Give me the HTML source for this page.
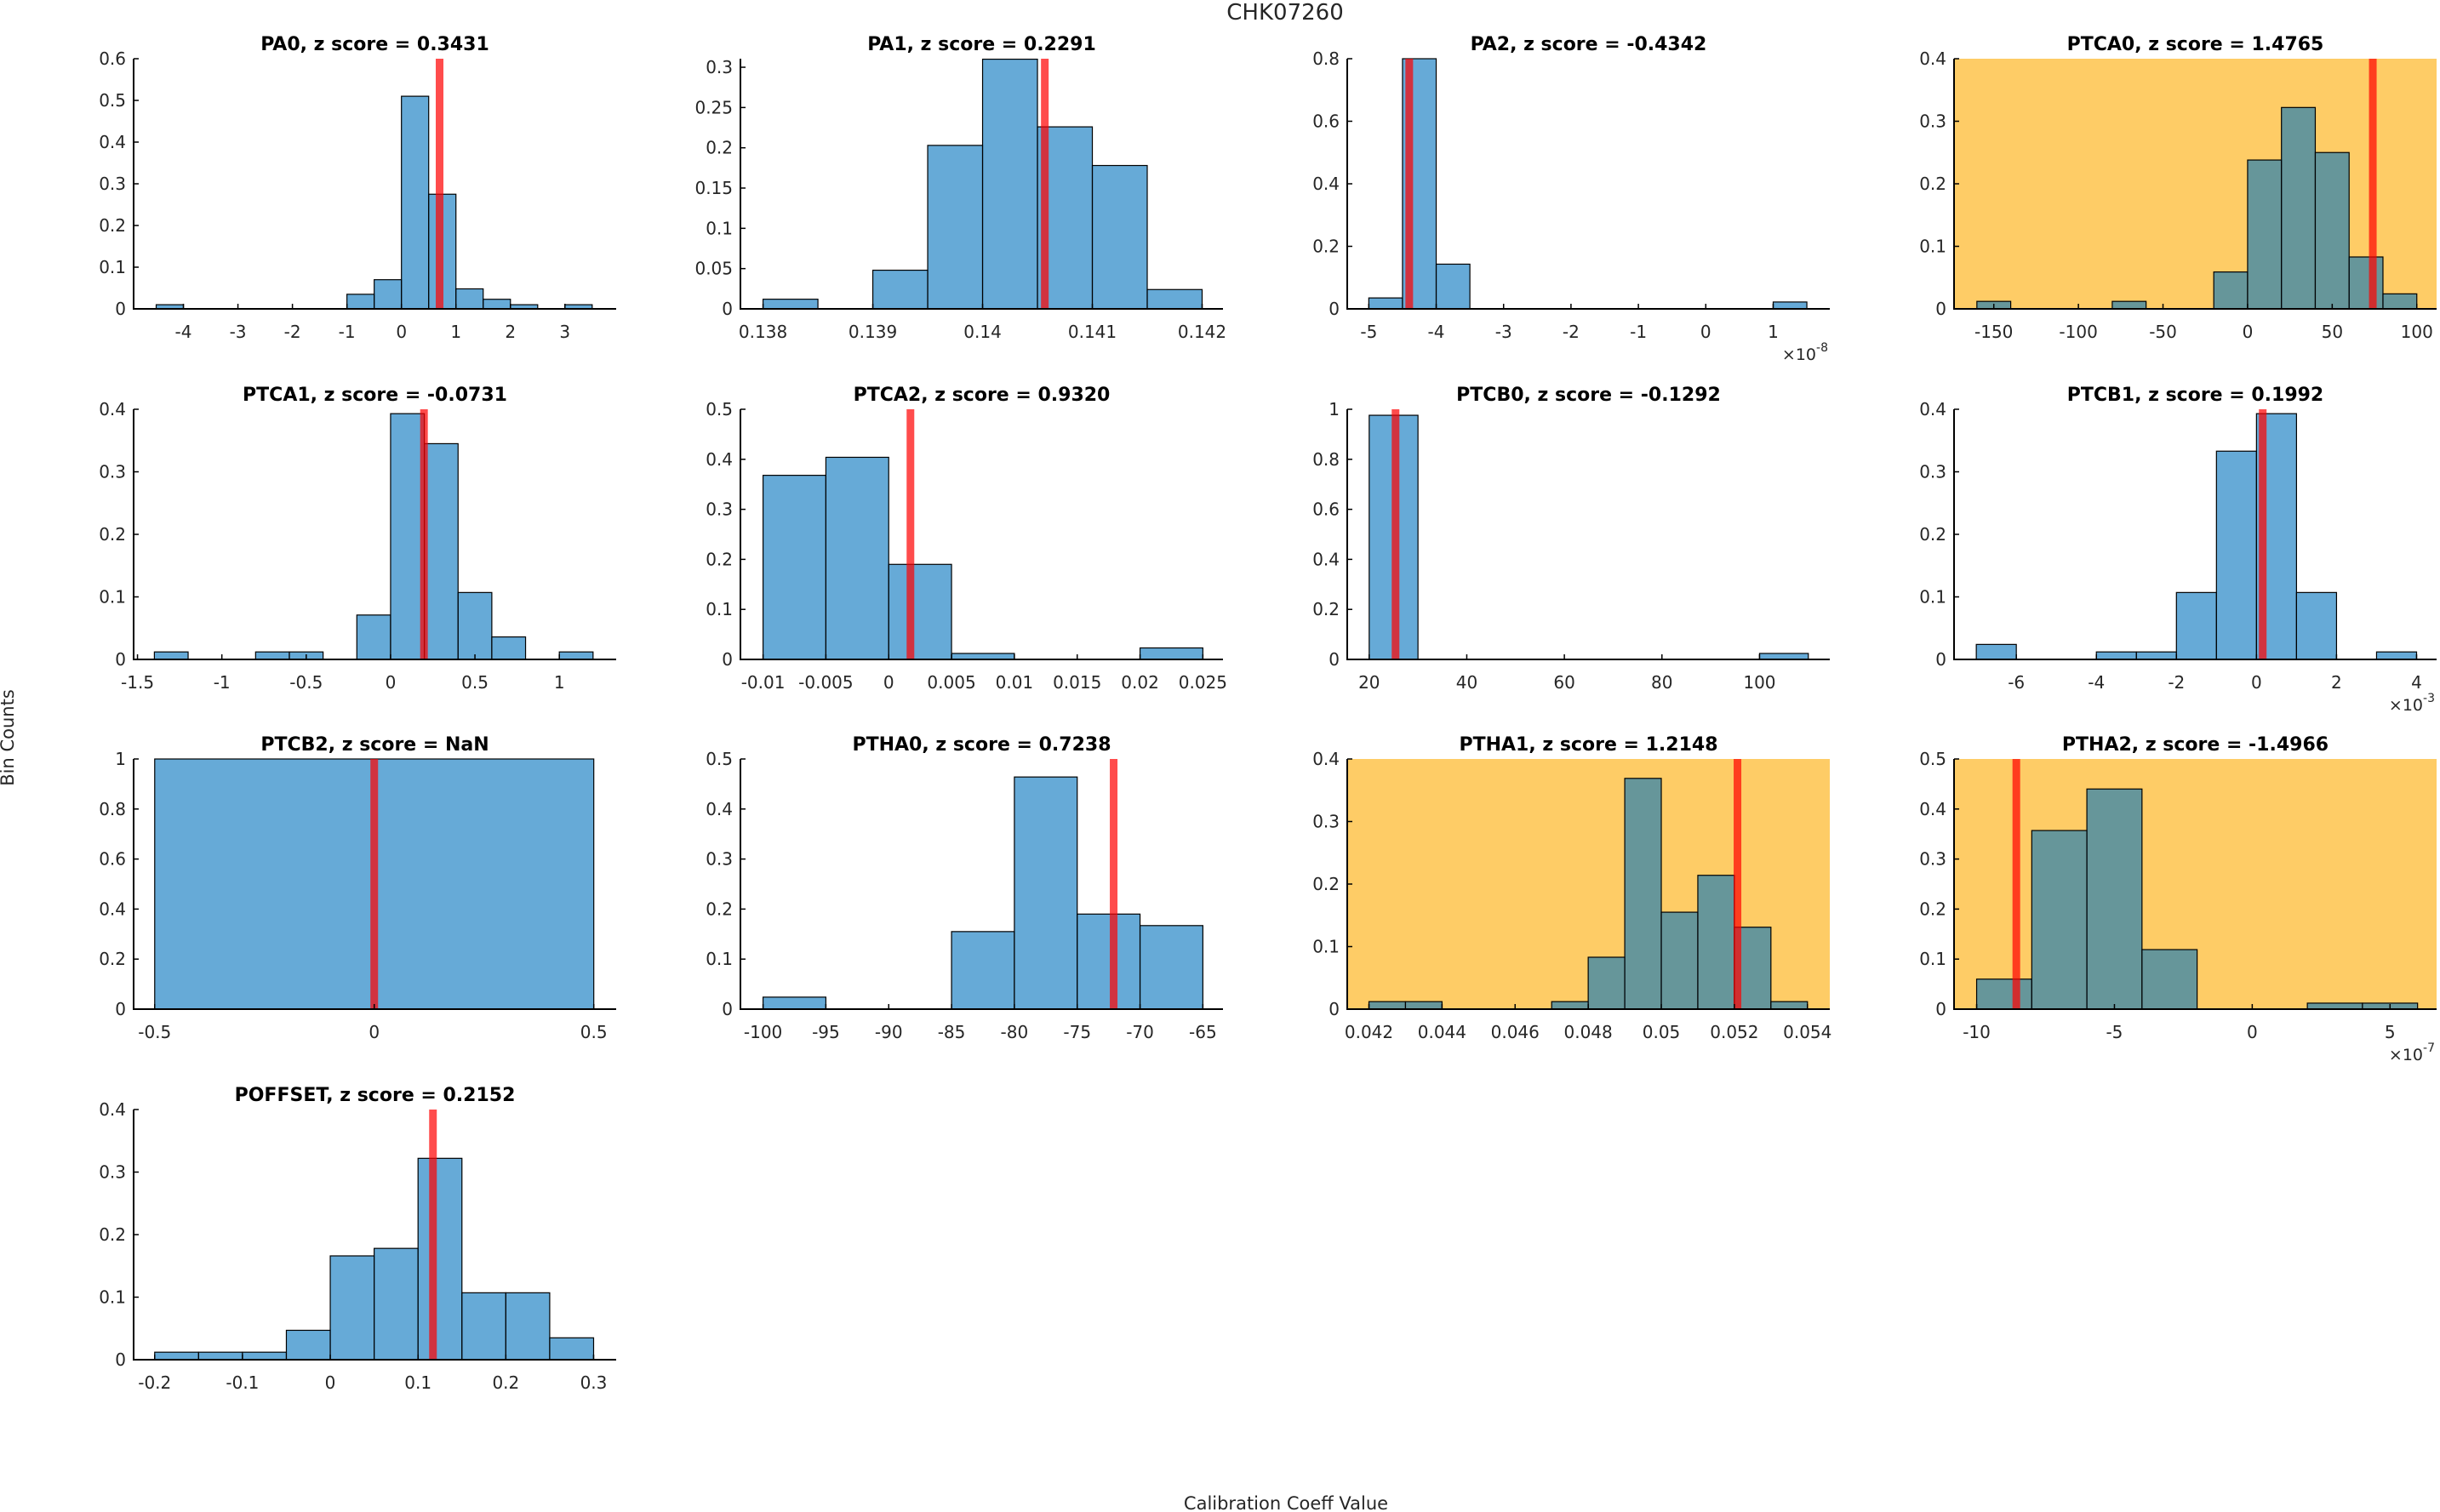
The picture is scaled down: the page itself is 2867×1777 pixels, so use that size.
<!DOCTYPE html>
<html><head><meta charset="utf-8"><style>
html,body{margin:0;padding:0;background:#fff;}
svg{display:block;font-family:"DejaVu Sans","Liberation Sans",sans-serif;}
</style></head><body>
<svg id="fig" width="2867" height="1777" viewBox="0 0 2867 1777" xmlns="http://www.w3.org/2000/svg">
<text x="1510" y="23" font-size="26" text-anchor="middle" fill="#262626">CHK07260</text>
<text transform="translate(16,867) rotate(-90)" font-size="21" text-anchor="middle" fill="#262626">Bin Counts</text>
<text x="1511" y="1774" font-size="21" text-anchor="middle" fill="#262626">Calibration Coeff Value</text>
</svg>
<script>
// ---- data ----
const names = ["PA0","PA1","PA2","PTCA0","PTCA1","PTCA2","PTCB0","PTCB1","PTCB2","PTHA0","PTHA1","PTHA2","POFFSET"];
const zscores = ["0.3431","0.2291","-0.4342","1.4765","-0.0731","0.9320","-0.1292","0.1992","NaN","0.7238","1.2148","-1.4966","0.2152"];
const binStarts = [-4.5,0.138,-5,-160,-1.4,-0.01,20,-7,-0.5,-100,0.042,-10,-0.2];
const binWidths = [0.5,0.0005,0.5,20,0.2,0.005,10,1,1,5,0.001,2,0.05];
const counts = [
 [0.01,0,0,0,0,0,0,0.035,0.07,0.51,0.275,0.048,0.023,0.01,0,0.01],
 [0.012,0,0.048,0.203,0.31,0.226,0.178,0.024],
 [0.035,0.8,0.143,0,0,0,0,0,0,0,0,0,0.022],
 [0.012,0,0,0,0.012,0,0,0.059,0.238,0.322,0.25,0.083,0.024],
 [0.012,0,0,0.012,0.012,0,0.071,0.393,0.345,0.107,0.036,0,0.012],
 [0.368,0.404,0.19,0.012,0,0,0.023],
 [0.976,0,0,0,0,0,0,0,0.024],
 [0.024,0,0,0.012,0.012,0.107,0.333,0.393,0.107,0,0.012],
 [1],
 [0.024,0,0,0.155,0.464,0.19,0.167],
 [0.012,0.012,0,0,0,0.012,0.083,0.369,0.155,0.214,0.131,0.012],
 [0.06,0.357,0.44,0.119,0,0,0.012,0.012],
 [0.012,0.012,0.012,0.047,0.166,0.178,0.322,0.107,0.107,0.035]
];
const redLines = [0.70,0.140567,-4.40,74,0.198,0.00173,25.4,0.156,0,-72.1,0.052085,-8.56,0.117];
const xMins = [-4.914,0.137794,-5.32,-173.5,-1.523,-0.0118,15.5,-7.556,-0.548,-101.8,0.041406,-10.82,-0.224];
const xMaxs = [3.94,0.14219,1.84,111.7,1.337,0.0266,114.4,4.5,0.551,-63.4,0.054611,6.69,0.3257];
const yMaxs = [0.6,0.3106,0.8,0.4,0.4,0.5,1,0.4,1,0.5,0.4,0.5,0.4];
const xTickLabels = [
 ["-4","-3","-2","-1","0","1","2","3"],
 ["0.138","0.139","0.14","0.141","0.142"],
 ["-5","-4","-3","-2","-1","0","1"],
 ["-150","-100","-50","0","50","100"],
 ["-1.5","-1","-0.5","0","0.5","1"],
 ["-0.01","-0.005","0","0.005","0.01","0.015","0.02","0.025"],
 ["20","40","60","80","100"],
 ["-6","-4","-2","0","2","4"],
 ["-0.5","0","0.5"],
 ["-100","-95","-90","-85","-80","-75","-70","-65"],
 ["0.042","0.044","0.046","0.048","0.05","0.052","0.054"],
 ["-10","-5","0","5"],
 ["-0.2","-0.1","0","0.1","0.2","0.3"]
];
const yTickLabels = [
 ["0","0.1","0.2","0.3","0.4","0.5","0.6"],
 ["0","0.05","0.1","0.15","0.2","0.25","0.3"],
 ["0","0.2","0.4","0.6","0.8"],
 ["0","0.1","0.2","0.3","0.4"],
 ["0","0.1","0.2","0.3","0.4"],
 ["0","0.1","0.2","0.3","0.4","0.5"],
 ["0","0.2","0.4","0.6","0.8","1"],
 ["0","0.1","0.2","0.3","0.4"],
 ["0","0.2","0.4","0.6","0.8","1"],
 ["0","0.1","0.2","0.3","0.4","0.5"],
 ["0","0.1","0.2","0.3","0.4"],
 ["0","0.1","0.2","0.3","0.4","0.5"],
 ["0","0.1","0.2","0.3","0.4"]
];
const exponents = ["","","-8","","","","","-3","","","","-7",""];
const flagged = [false,false,false,true,false,false,false,false,false,false,true,true,false];

// ---- layout ----
const NS = "http://www.w3.org/2000/svg";
const svg = document.getElementById("fig");
const colX = [157,870,1583,2296], rowY = [69,481,892,1304];
const W = 567, H = 294;
function mk(tag, attrs, parent){const e=document.createElementNS(NS,tag);for(const k in attrs)e.setAttribute(k,attrs[k]);(parent||svg).appendChild(e);return e;}

names.forEach((nm,i)=>{
  const L = colX[i%4], T = rowY[Math.floor(i/4)], B = T+H, R = L+W;
  const g = mk("g",{});
  
  
  const xs = v => L + (v - xMins[i])/(xMaxs[i]-xMins[i])*W;
  const ys = v => B - v/yMaxs[i]*H;
  if (flagged[i]) {
    const bg = mk("rect",{x:L,y:T,width:W,height:H,fill:"#fecc66"},g);
    
    
  }
  counts[i].forEach((c,j)=>{
    const x0 = xs(binStarts[i]+j*binWidths[i]), x1 = xs(binStarts[i]+(j+1)*binWidths[i]);
    const r = mk("rect",{x:x0,y:ys(c),width:x1-x0,height:B-ys(c),fill:"rgba(0,114,189,0.6)",stroke:"#000","stroke-width":1.2},g);
    
    
  });
  const rl = mk("rect",{x:xs(redLines[i])-4.5,y:T,width:9,height:H,fill:"rgba(255,0,0,0.7)"},g);
  
  
  const ax = mk("path",{d:`M${L},${T}V${B}H${R}`,stroke:"#000","stroke-width":2,fill:"none"},g);
  
  
  xTickLabels[i].forEach(t=>{
    const x = xs(parseFloat(t));
    mk("line",{x1:x,x2:x,y1:B,y2:B-6,stroke:"#000","stroke-width":1.5},g);
    const tx = mk("text",{x:x,y:B+34,"font-size":20,"text-anchor":"middle",fill:"#262626"},g);
    tx.textContent = t;
    
    
  });
  yTickLabels[i].forEach(t=>{
    const y = ys(parseFloat(t));
    mk("line",{x1:L,x2:L+6,y1:y,y2:y,stroke:"#000","stroke-width":1.5},g);
    const tx = mk("text",{x:L-9,y:y+7,"font-size":20,"text-anchor":"end",fill:"#262626"},g);
    tx.textContent = t;
    
    
  });
  const ti = mk("text",{x:L+W/2,y:T-10,"font-size":22,"font-weight":"bold","text-anchor":"middle",fill:"#000"},g);
  ti.textContent = nm + ", z score = " + zscores[i];
  
  
  if (exponents[i]) {
    const ex = mk("text",{x:R-2,y:B+60,"font-size":19,"text-anchor":"end",fill:"#262626"},g);
    
    
    const a = mk("tspan",{},ex); a.textContent = "×10";
    const b = mk("tspan",{dy:-10,"font-size":14},ex); b.textContent = exponents[i];
  }
});
</script>
</body></html>
